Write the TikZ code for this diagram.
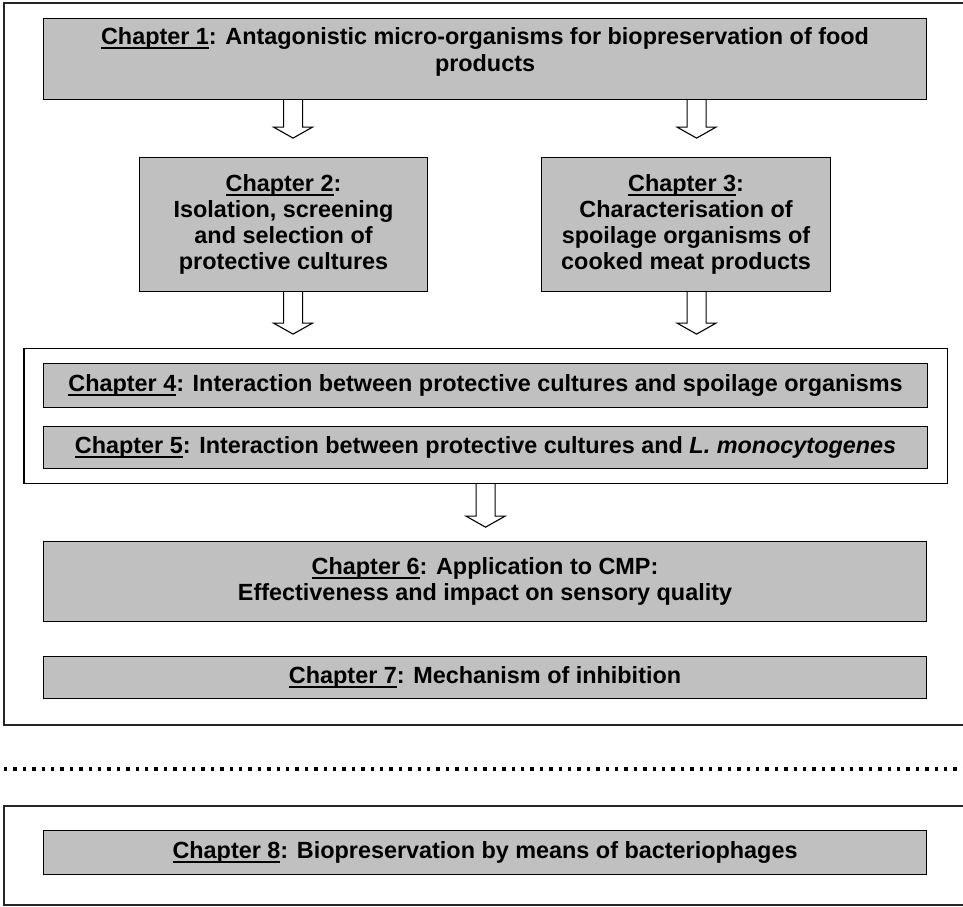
\documentclass[tikz,border=0pt]{standalone}
\usepackage{fontspec}
\setmainfont{Liberation Sans}
\usetikzlibrary{fit}
\definecolor{chapgray}{RGB}{192,192,192}
\newcommand\chapul[1]{\setbox0\hbox{#1}\rlap{\rule[-4.4pt]{\wd0}{2pt}}\box0}

\begin{document}
\begin{tikzpicture}[x=1pt, y=-1pt,
    chapbox/.style={draw=black, fill=chapgray, line width=1.1pt, anchor=north west,
                    inner sep=0pt, align=center,
                    font=\fontsize{23.4}{26.2}\selectfont\bfseries},
    groupbox/.style={draw=black, line width=1.1pt, inner xsep=19pt, inner ysep=14.5pt},
    framebox/.style={draw=black!85, line width=1.1pt},
    sepline/.style={line width=3.4pt, dash pattern=on 3.4pt off 6pt},
    downarr/.pic={\draw[line width=1.1pt, line join=miter]
                  (-9.5,0) -- (-9.5,#1-11) -- (-19.5,#1-11) -- (0,#1)
                  -- (19.5,#1-11) -- (9.5,#1-11) -- (9.5,0);}]
  \useasboundingbox (0,0) rectangle (963,906);

  % outer frames and separator
  \draw[framebox] (963,3) -| (4,725) -- (963,725);
  \draw[sepline] (4,769) -- (963,769);
  \draw[framebox] (963,806) -| (4,905) -- (963,905);

  % chapters
  \node[chapbox, minimum width=883pt, minimum height=81pt] (ch1) at (43,18)
    {\chapul{Chapter 1}: Antagonistic micro-organisms for biopreservation of food\\products\\[-7pt]};
  \node[chapbox, minimum width=288pt, minimum height=134pt] (ch2) at (139,157)
    {\chapul{Chapter 2}:\\Isolation, screening\\and selection of\\protective cultures};
  \node[chapbox, minimum width=289pt, minimum height=134pt] (ch3) at (541,157)
    {\chapul{Chapter 3}:\\Characterisation of\\spoilage organisms of\\cooked meat products};
  \node[chapbox, minimum width=884pt, minimum height=44pt] (ch4) at (43,363)
    {\chapul{Chapter 4}: Interaction between protective cultures and spoilage organisms};
  \node[chapbox, minimum width=884pt, minimum height=42pt] (ch5) at (43,426)
    {\chapul{Chapter 5}: Interaction between protective cultures and \textit{L. monocytogenes}};
  \node[groupbox, fit=(ch4)(ch5)] (grp) {};
  \node[chapbox, minimum width=883pt, minimum height=80pt] (ch6) at (43,541)
    {\chapul{Chapter 6}: Application to CMP:\\Effectiveness and impact on sensory quality};
  \node[chapbox, minimum width=883pt, minimum height=42pt] (ch7) at (43,656)
    {\chapul{Chapter 7}: Mechanism of inhibition};
  \node[chapbox, minimum width=883pt, minimum height=44pt] (ch8) at (43,830)
    {\chapul{Chapter 8}: Biopreservation by means of bacteriophages};

  % block arrows
  \coordinate (a2) at ([xshift=9.5pt]ch2.north);
  \coordinate (a3) at ([xshift=10.5pt]ch3.north);
  \pic at (a2 |- ch1.south) {downarr=38};
  \pic at (a3 |- ch1.south) {downarr=38};
  \pic at (a2 |- ch2.south) {downarr=42};
  \pic at (a3 |- ch3.south) {downarr=42};
  \pic at (grp.south) {downarr=43};
\end{tikzpicture}
\end{document}
